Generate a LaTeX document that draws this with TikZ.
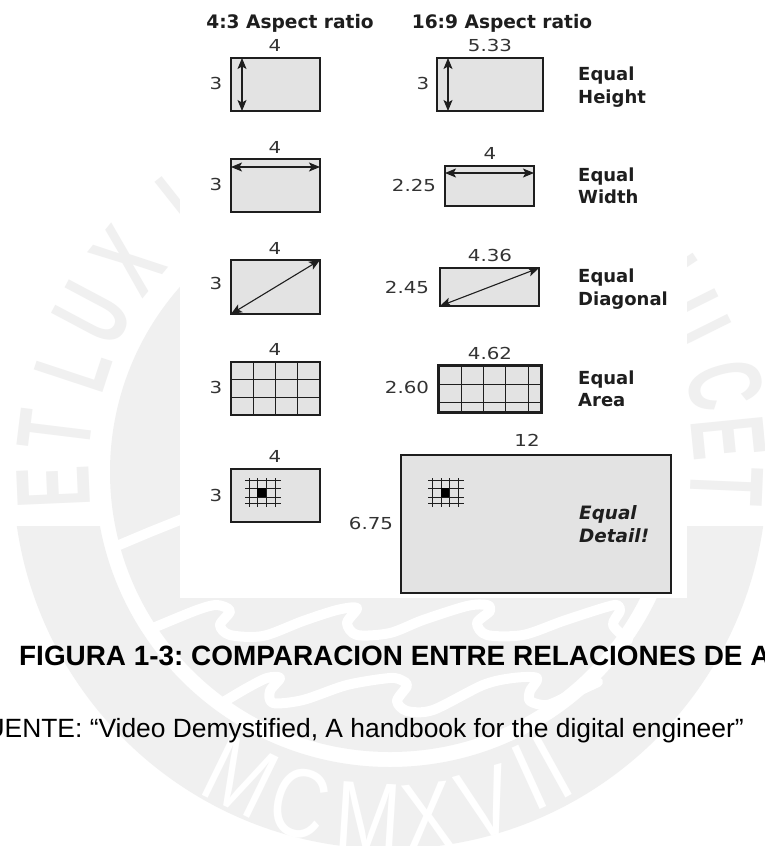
\documentclass[tikz,border=0pt]{standalone}
\usepackage{graphicx}
\usepackage{fontspec}
\setmainfont{DejaVu Sans}
\newfontfamily\capfont{Liberation Sans}
\usetikzlibrary{arrows.meta}
\definecolor{wm}{HTML}{F0F0F0}
\definecolor{boxfill}{HTML}{E3E3E3}
\definecolor{ink}{HTML}{1E1E1E}
\definecolor{numink}{HTML}{333333}
\tikzset{
  x=1pt,y=-1pt,
  scr/.style={draw=ink,fill=boxfill,line width=1.5pt,anchor=north west,inner sep=0pt,outer sep=0pt},
  dim/.style={inner sep=0pt,text=numink,font=\fontsize{16.5}{18}\selectfont},
  head/.style={inner sep=0pt,anchor=base,text=ink,font=\fontsize{18.6}{20}\selectfont\bfseries},
  side/.style={inner sep=0pt,anchor=base west,text=ink,font=\fontsize{18}{20}\selectfont\bfseries},
  sideit/.style={side,font=\fontsize{18.4}{20}\selectfont\bfseries\itshape},
  dbl/.style={{Stealth[length=11pt,width=9pt,inset=2.5pt]}-{Stealth[length=11pt,width=9pt,inset=2.5pt]},draw=ink,line width=1.1pt},
  gridln/.style={draw=ink,line width=.9pt},
  wave/.style={draw=white,line width=10pt,line cap=round,line join=round},
  wmletter/.style={inner sep=0pt,text=wm,font=\capfont\bfseries\fontsize{105}{105}\selectfont},
  wmwhite/.style={inner sep=0pt,text=white,font=\capfont\fontsize{98}{98}\selectfont},
  capb/.style={inner sep=0pt,text=black,font=\frenchspacing\capfont\bfseries\fontsize{27.9}{29}\selectfont},
  capr/.style={inner sep=0pt,text=black,font=\frenchspacing\capfont\fontsize{26.4}{29}\selectfont}
}
\newcommand{\nrw}[1]{\scalebox{.6}[1]{#1}}
\newcommand{\wid}[1]{\scalebox{1.2}[1]{#1}}
\begin{document}
\begin{tikzpicture}
\useasboundingbox (0,0) rectangle (764,846);
\clip (0,0) rectangle (764,846);
\fill[white] (0,0) rectangle (764,846);
% seal watermark
\coordinate (sc) at (390,472);
\begin{scope}
  \clip (0,526) rectangle (764,846);
  \fill[wm,even odd rule] (sc) circle[radius=377pt] (sc) circle[radius=295pt];
\end{scope}
\fill[wm] (sc) circle[radius=280pt];
\draw[wave] (112,548) -- (150,532) -- (200,512);
\draw[wave] plot[smooth,tension=.5] coordinates {(153,628)(197,610)(217,605)(230,611)(220,625)(230,635)(263,636)(303,621)(337,610)(357,608)(347,623)(357,635)(390,633)(423,620)(467,606)(487,605)(490,611)(477,623)(487,635)(523,635)(563,621)(603,608)(617,605)(620,611)(613,625)(628,640)};
\draw[wave] plot[smooth,tension=.5] coordinates {(225,701)(247,688)(267,678)(280,678)(270,691)(273,703)(303,700)(347,685)(390,678)(403,681)(407,686)(397,701)(407,711)(433,710)(483,685)(513,678)(537,678)(530,691)(530,701)(547,705)(570,695)(598,682)};
% seal lettering
\node[wmletter,rotate=92.5] (lE) at (53,487) {\nrw{E}};
\node[wmletter,rotate=83] (lT) at (55,431) {\nrw{T}};
\node[wmletter,rotate=71.7] (lL) at (73,367) {\nrw{L}};
\node[wmletter,rotate=62] (lU) at (93,314) {\nrw{U}};
\node[wmletter,rotate=51] (lX) at (128,260) {\nrw{X}};
\node[wmletter,rotate=38.4] (lI) at (181,208) {\nrw{I}};
\node[wmletter,rotate=31] (lN) at (216,183) {\nrw{N}};
\node[wmletter,rotate=-56.5] (rL) at (671,286) {\nrw{L}};
\node[wmletter,rotate=-63.5] (rU) at (691,322) {\nrw{U}};
\node[wmletter,rotate=-75.4] (rC) at (725,385) {\nrw{C}};
\node[wmletter,rotate=-84.3] (rE) at (729,438) {\nrw{E}};
\node[wmletter,rotate=-92.4] (rT) at (727,486) {\nrw{T}};
\node[wmwhite,rotate=-26] (m1) at (241,777) {\scalebox{.8}[1]{M}};
\node[wmwhite,rotate=-15] (m2) at (300,803) {\scalebox{.8}[1]{C}};
\node[wmwhite,rotate=-3.6] (m3) at (368,817) {\scalebox{.8}[1]{M}};
\node[wmwhite,rotate=6.3] (m4) at (428,817) {\scalebox{.8}[1]{X}};
\node[wmwhite,rotate=16] (m5) at (486,803) {\scalebox{.8}[1]{V}};
\node[wmwhite,rotate=24.5] (m6) at (529,777) {\scalebox{.8}[1]{I}};
\node[wmwhite,rotate=29] (m7) at (553,767) {\scalebox{.8}[1]{I}};
% white panel
\fill[white] (180,0) rectangle (687,598);
% headers
\node[head] (h1) at (290,28) {4:3 Aspect ratio};
\node[head] (h2) at (502,28) {16:9 Aspect ratio};
% screens
\node[scr,minimum width=89pt,minimum height=53pt] (a1) at (231,58) {};
\node[scr,minimum width=106pt,minimum height=53pt] (b1) at (437,58) {};
\node[scr,minimum width=89pt,minimum height=53pt] (a2) at (231,159) {};
\node[scr,minimum width=89pt,minimum height=40pt] (b2) at (445,166) {};
\node[scr,minimum width=89pt,minimum height=54pt] (a3) at (231,260) {};
\node[scr,minimum width=99pt,minimum height=38pt] (b3) at (440,268) {};
\node[scr,minimum width=89pt,minimum height=53pt] (a4) at (231,362) {};
\node[scr,line width=3pt,minimum width=103pt,minimum height=47pt] (b4) at (438,365) {};
\node[scr,minimum width=89pt,minimum height=53pt] (a5) at (231,469) {};
\node[scr,minimum width=270pt,minimum height=138pt] (b5) at (401,455) {};
% arrows
\draw[dbl] ([xshift=11pt]a1.north west) -- ([xshift=11pt]a1.south west);
\draw[dbl] ([xshift=11pt]b1.north west) -- ([xshift=11pt]b1.south west);
\draw[dbl] ([yshift=-8pt]a2.north west) -- ([yshift=-8pt]a2.north east);
\draw[dbl] ([yshift=-7pt]b2.north west) -- ([yshift=-7pt]b2.north east);
\draw[dbl] (a3.south west) -- (a3.north east);
\draw[dbl] (b3.south west) -- (b3.north east);
% grids
\foreach \x in {253,275,297} \draw[gridln] (\x,362) -- (\x,415);
\foreach \y in {379,397} \draw[gridln] (231,\y) -- (320,\y);
\foreach \x in {461,483,505,528} \draw[gridln] (\x,365) -- (\x,412);
\foreach \y in {384,402} \draw[gridln] (438,\y) -- (541,\y);
\foreach \x in {249,257,266,275} \draw[gridln] (\x,478) -- (\x,507);
\foreach \y in {480,488,497,503} \draw[gridln] (245,\y) -- (281,\y);
\fill[black] (257,488) rectangle (266,497);
\foreach \x in {432,441,449,458} \draw[gridln] (\x,478) -- (\x,507);
\foreach \y in {480,488,497,503} \draw[gridln] (428,\y) -- (464,\y);
\fill[black] (441,488) rectangle (449,497);
% dimensions
\node[dim] (d1) at (275,45) {\wid{4}};
\node[dim] (d2) at (490,45) {\wid{5.33}};
\node[dim] (d3) at (216,83) {\wid{3}};
\node[dim] (d4) at (423,83) {\wid{3}};
\node[dim] (d5) at (275,147) {\wid{4}};
\node[dim] (d6) at (490,153) {\wid{4}};
\node[dim] (d7) at (216,184) {\wid{3}};
\node[dim] (d8) at (414,185) {\wid{2.25}};
\node[dim] (d9) at (275,248) {\wid{4}};
\node[dim] (d10) at (490,255) {\wid{4.36}};
\node[dim] (d11) at (216,283) {\wid{3}};
\node[dim] (d12) at (407,287) {\wid{2.45}};
\node[dim] (d13) at (275,349) {\wid{4}};
\node[dim] (d14) at (490,353) {\wid{4.62}};
\node[dim] (d15) at (216,387) {\wid{3}};
\node[dim] (d16) at (407,387) {\wid{2.60}};
\node[dim] (d17) at (275,456) {\wid{4}};
\node[dim] (d18) at (527,440) {\wid{12}};
\node[dim] (d19) at (216,495) {\wid{3}};
\node[dim] (d20) at (371,523) {\wid{6.75}};
% side labels
\node[side] (s1) at (578,80) {Equal};
\node[side] (s2) at (578,103) {Height};
\node[side] (s3) at (578,181) {Equal};
\node[side] (s4) at (578,203) {Width};
\node[side] (s5) at (578,282) {Equal};
\node[side] (s6) at (578,305) {Diagonal};
\node[side] (s7) at (578,384) {Equal};
\node[side] (s8) at (578,406) {Area};
\node[sideit] (s9) at (579,519) {Equal};
\node[sideit] (s10) at (579,542) {Detail!};
% captions
\node[capb,anchor=base west] (c1) at (19,665) {FIGURA 1-3: COMPARACION ENTRE RELACIONES DE ASPECTO};
\node[capr,anchor=base east] (c2) at (744,737) {FUENTE: “Video Demystified, A handbook for the digital engineer”};
\end{tikzpicture}
\end{document}
